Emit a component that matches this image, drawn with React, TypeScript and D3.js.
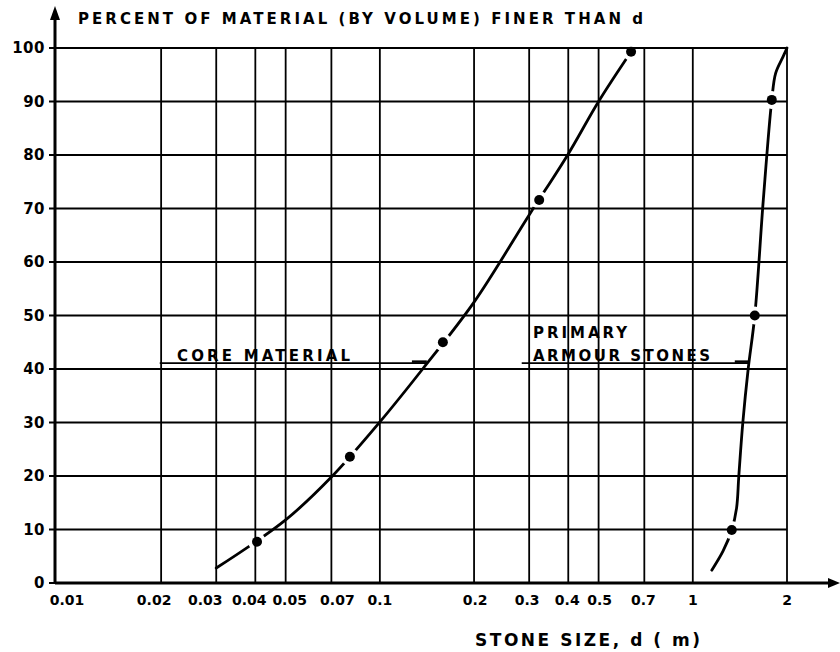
import React from "react";
import * as d3 from "d3";

// ---- data ----
const xTickValues = [0.01, 0.02, 0.03, 0.04, 0.05, 0.07, 0.1, 0.2, 0.3, 0.4, 0.5, 0.7, 1, 2];
const xTickLabels = ["0.01", "0.02", "0.03", "0.04", "0.05", "0.07", "0.1", "0.2", "0.3", "0.4", "0.5", "0.7", "1", "2"];
const xGridValues = [0.02, 0.03, 0.04, 0.05, 0.07, 0.1, 0.2, 0.3, 0.4, 0.5, 0.7, 1, 2];
const yTickValues = [0, 10, 20, 30, 40, 50, 60, 70, 80, 90, 100];

// core material grading curve (d in m, percent finer)
const coreCurveD = [0.03, 0.05, 0.07, 0.1, 0.137, 0.2, 0.3, 0.4, 0.5, 0.635];
const coreCurveP = [2.8, 11.8, 19.8, 30.1, 40, 52.5, 68.8, 80.2, 90, 99.3];
const coreDotsD = [0.0405, 0.0802, 0.159, 0.323, 0.635];
const coreDotsP = [7.7, 23.6, 45.0, 71.6, 99.3];

// primary armour stones grading curve
const armourCurveD = [1.15, 1.25, 1.332, 1.38, 1.403, 1.445, 1.503, 1.578, 1.68, 1.788, 1.84, 1.94, 2.0];
const armourCurveP = [2.4, 6, 9.9, 14, 20, 30, 40, 50, 71.6, 90.3, 95.3, 98.3, 100];
const armourDotsD = [1.332, 1.578, 1.788];
const armourDotsP = [9.9, 50, 90.3];

// label leader lines (d range, percent level)
const coreLeaderD = [0.0198, 0.1413];
const coreLeaderArrowD = [0.1266, 0.1413];
const armourLeaderD = [0.284, 1.52];
const armourLeaderArrowD = [1.362, 1.52];
const leaderP = 41.1;

const X_DOMAIN: [number, number] = [0.00916, 2];

// layout: hand-lettered tick label nudges (px)
const xTickLabelDx = [0, -7, -11, -6, 4, 6, 0, 1, -2, -1, 1, -1, 0, 0];

export default function App() {
  const W = 840, H = 652;
  const x = d3.scaleLog().domain(X_DOMAIN).range([55, 787]);
  const y = d3.scaleLinear().domain([0, 100]).range([583, 48]);

  const line = d3
    .line<[number, number]>()
    .x((d) => x(d[0]))
    .y((d) => y(d[1]))
    .curve(d3.curveCatmullRom.alpha(0.5));

  const corePts = coreCurveD.map((d, i) => [d, coreCurveP[i]] as [number, number]);
  const armourPts = armourCurveD.map((d, i) => [d, armourCurveP[i]] as [number, number]);
  const dots = [
    ...coreDotsD.map((d, i) => [d, coreDotsP[i]]),
    ...armourDotsD.map((d, i) => [d, armourDotsP[i]]),
  ];

  const font = "'DejaVu Sans', Verdana, sans-serif";
  const x0 = x(X_DOMAIN[0]);
  const x1 = x(X_DOMAIN[1]);

  return (
    <svg
      width={W}
      height={H}
      style={{ position: "absolute", left: 0, top: 0, background: "#fff" }}
      fontFamily={font}
    >
      <defs>
        <mask id="gapMask" maskUnits="userSpaceOnUse" x={0} y={0} width={W} height={H}>
          <rect x={0} y={0} width={W} height={H} fill="white" />
          {dots.map((d, i) => (
            <circle key={i} cx={x(d[0])} cy={y(d[1])} r={9} fill="black" />
          ))}
        </mask>
      </defs>
      <rect x={0} y={0} width={W} height={H} fill="#fff" />

      {/* horizontal grid */}
      {yTickValues.map((v) => (
        <line key={"h" + v} x1={x0 - 6} x2={x1} y1={y(v)} y2={y(v)} stroke="#000" strokeWidth={1.8} />
      ))}
      {/* vertical grid */}
      {xGridValues.map((v) => (
        <line key={"v" + v} x1={x(v)} x2={x(v)} y1={y(0)} y2={y(100)} stroke="#000" strokeWidth={1.8} />
      ))}

      {/* axes */}
      <line x1={x0} x2={x0} y1={y(0)} y2={18} stroke="#000" strokeWidth={3} />
      <path d={`M${x0},6 L${x0 - 5},20 L${x0 + 5},20 Z`} fill="#000" />
      <line x1={x0} x2={830} y1={y(0)} y2={y(0)} stroke="#000" strokeWidth={3} />
      <path d={`M840,${y(0)} L828,${y(0) - 5} L828,${y(0) + 5} Z`} fill="#000" />

      {/* y tick labels */}
      {yTickValues.map((v) => (
        <text
          key={"yl" + v}
          x={45}
          y={y(v)}
          dy="0.36em"
          textAnchor="end"
          fontSize={15}
          fontWeight="bold"
          letterSpacing={0.5}
        >
          {v}
        </text>
      ))}

      {/* x tick labels */}
      {xTickValues.map((v, i) => (
        <text
          key={"xl" + v}
          x={x(v) + xTickLabelDx[i]}
          y={605}
          textAnchor="middle"
          fontSize={14}
          fontWeight="bold"
        >
          {xTickLabels[i]}
        </text>
      ))}

      {/* curves */}
      <g mask="url(#gapMask)">
        <path d={line(corePts) || ""} fill="none" stroke="#000" strokeWidth={2.8} strokeLinecap="round" />
        <path d={line(armourPts) || ""} fill="none" stroke="#000" strokeWidth={2.8} strokeLinecap="round" />
      </g>
      {dots.map((d, i) => (
        <circle key={"d" + i} cx={x(d[0])} cy={y(d[1])} r={5} fill="#000" />
      ))}

      {/* leader lines */}
      <line x1={x(coreLeaderD[0])} x2={x(coreLeaderD[1])} y1={y(leaderP)} y2={y(leaderP)} stroke="#000" strokeWidth={1.6} />
      <line x1={x(coreLeaderArrowD[0])} x2={x(coreLeaderArrowD[1])} y1={y(leaderP) - 1.5} y2={y(leaderP) - 1.5} stroke="#000" strokeWidth={2.5} />
      <line x1={x(armourLeaderD[0])} x2={x(armourLeaderD[1])} y1={y(leaderP)} y2={y(leaderP)} stroke="#000" strokeWidth={1.6} />
      <line x1={x(armourLeaderArrowD[0])} x2={x(armourLeaderArrowD[1])} y1={y(leaderP) - 1.5} y2={y(leaderP) - 1.5} stroke="#000" strokeWidth={2.5} />

      {/* annotations */}
      <text x={177} y={361} fontSize={15} fontWeight="bold" textLength={173} lengthAdjust="spacing">
        CORE  MATERIAL
      </text>
      <text x={533} y={338} fontSize={15} fontWeight="bold" textLength={94} lengthAdjust="spacing">
        PRIMARY
      </text>
      <text x={533} y={361} fontSize={15} fontWeight="bold" textLength={177} lengthAdjust="spacing">
        ARMOUR STONES
      </text>

      {/* titles */}
      <text x={78} y={24} fontSize={15} fontWeight="bold" textLength={565} lengthAdjust="spacing">
        PERCENT OF MATERIAL (BY VOLUME) FINER THAN d
      </text>
      <text x={475} y={646} fontSize={17} fontWeight="bold" textLength={225} lengthAdjust="spacing">
        STONE SIZE, d ( m)
      </text>
    </svg>
  );
}
